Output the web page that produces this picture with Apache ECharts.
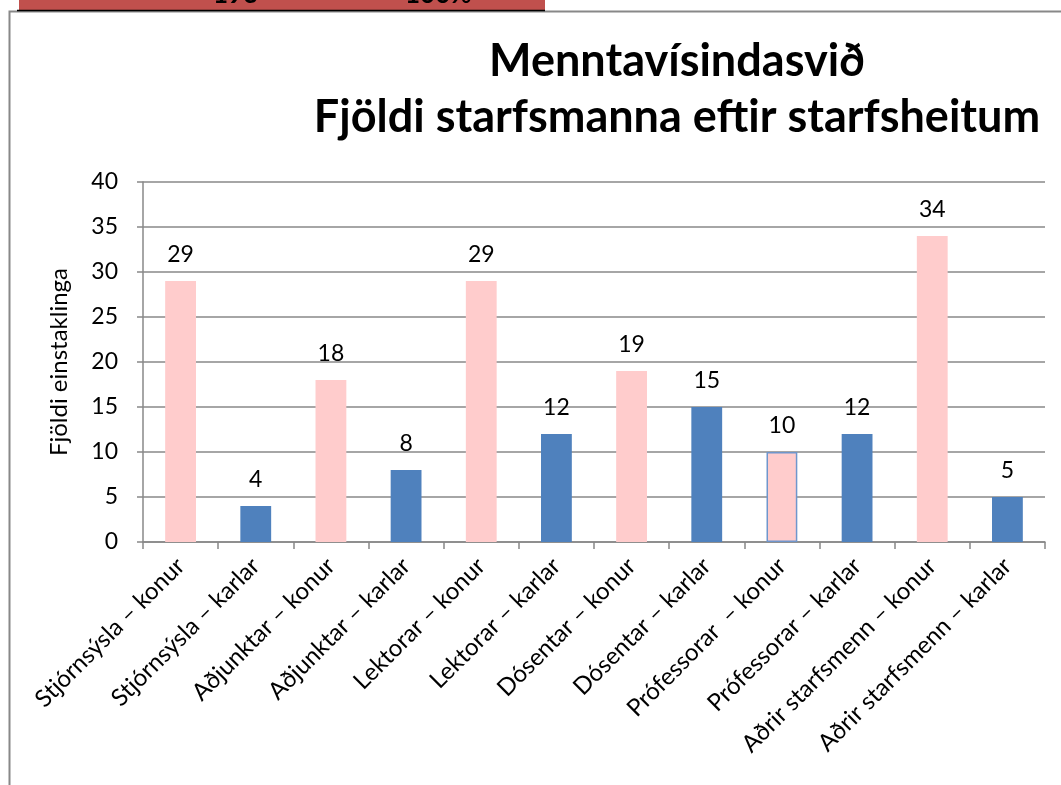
<!DOCTYPE html>
<html>
<head>
<meta charset="utf-8">
<script src="https://cdn.jsdelivr.net/npm/echarts@6/dist/echarts.min.js"></script>
<style>
  html, body { margin: 0; padding: 0; background: #fff; }
  #chart { width: 1061px; height: 785px; }
</style>
</head>
<body>
<div id="chart"></div>
<script>
// Starfsheiti og kyn
const categories = [
  'Stjórnsýsla – konur', 'Stjórnsýsla – karlar',
  'Aðjunktar – konur', 'Aðjunktar – karlar',
  'Lektorar – konur', 'Lektorar – karlar',
  'Dósentar – konur', 'Dósentar – karlar',
  'Prófessorar  – konur', 'Prófessorar – karlar',
  'Aðrir starfsmenn – konur', 'Aðrir starfsmenn – karlar'
];
const counts = [29, 4, 18, 8, 29, 12, 19, 15, 10, 12, 34, 5];
const yTicks = [0, 5, 10, 15, 20, 25, 30, 35, 40];

const PINK = '#FFCCCC';
const BLUE = '#4F81BD';
const FONT = 'Lato, "Open Sans", sans-serif';

const chart = echarts.init(document.getElementById('chart'), null, { renderer: 'canvas' });

const barData = counts.map((v, i) => {
  const isWoman = categories[i].indexOf('konur') >= 0;
  const item = { value: v, itemStyle: { color: isWoman ? PINK : BLUE } };
  if (categories[i].indexOf('Prófessorar') === 0 && isWoman) {
    item.itemStyle.borderColor = '#6F96CC';
    item.itemStyle.borderWidth = 1.5;
  }
  return item;
});

chart.setOption({
  animation: false,
  backgroundColor: '#ffffff',
  title: {
    text: 'Menntavísindasvið\nFjöldi starfsmanna eftir starfsheitum',
    left: 672,
    textAlign: 'center',
    top: 28,
    textStyle: {
      fontFamily: FONT,
      fontWeight: 'bold',
      fontSize: 45,
      lineHeight: 56,
      color: '#000'
    }
  },
  grid: { left: 143, top: 182, right: 16, bottom: 243 },
  xAxis: {
    type: 'category',
    data: categories,
    axisLine: { lineStyle: { color: '#888', width: 1.5 } },
    axisTick: { show: true, length: 7, lineStyle: { color: '#888', width: 1.5 } },
    axisLabel: {
      interval: 0,
      rotate: 45,
      margin: 20,
      fontFamily: FONT,
      fontSize: 24,
      color: '#000'
    }
  },
  yAxis: {
    type: 'value',
    min: yTicks[0],
    max: yTicks[yTicks.length - 1],
    interval: 5,
    name: 'Fjöldi einstaklinga',
    nameLocation: 'middle',
    nameRotate: 90,
    nameGap: 72,
    nameTextStyle: { fontFamily: FONT, fontSize: 24, color: '#000' },
    axisLine: { show: true, lineStyle: { color: '#888', width: 1.5 } },
    axisTick: { show: true, inside: false, length: 6, lineStyle: { color: '#888', width: 1.5 } },
    splitLine: { show: true, lineStyle: { color: '#888', width: 1.5 } },
    axisLabel: {
      margin: 25,
      fontFamily: FONT,
      fontSize: 23,
      color: '#000'
    }
  },
  series: [{
    type: 'bar',
    data: barData,
    barWidth: '41%',
    label: {
      show: true,
      position: 'top',
      distance: 15,
      fontFamily: FONT,
      fontSize: 23,
      color: '#000'
    }
  }],
  graphic: [
    // top summary strip, mostly cut off at the page edge
    { type: 'rect', shape: { x: 19, y: 0, width: 526, height: 10 }, style: { fill: '#C0504D' }, z: 10 },
    { type: 'line', shape: { x1: 17, y1: 10.5, x2: 545, y2: 10.5 }, style: { stroke: '#000', lineWidth: 1.5 }, z: 11 },
    { type: 'text', left: 213, top: -18, style: { text: '193', font: 'bold 26px ' + FONT, fill: '#000' }, z: 11 },
    { type: 'text', left: 405, top: -18, style: { text: '100%', font: 'bold 26px ' + FONT, fill: '#000' }, z: 11 },
    // chart frame
    { type: 'rect', shape: { x: 9.5, y: 11.5, width: 1100, height: 900 }, style: { fill: 'none', stroke: '#888', lineWidth: 2 }, z: 1 }
  ]
});
</script>
</body>
</html>
